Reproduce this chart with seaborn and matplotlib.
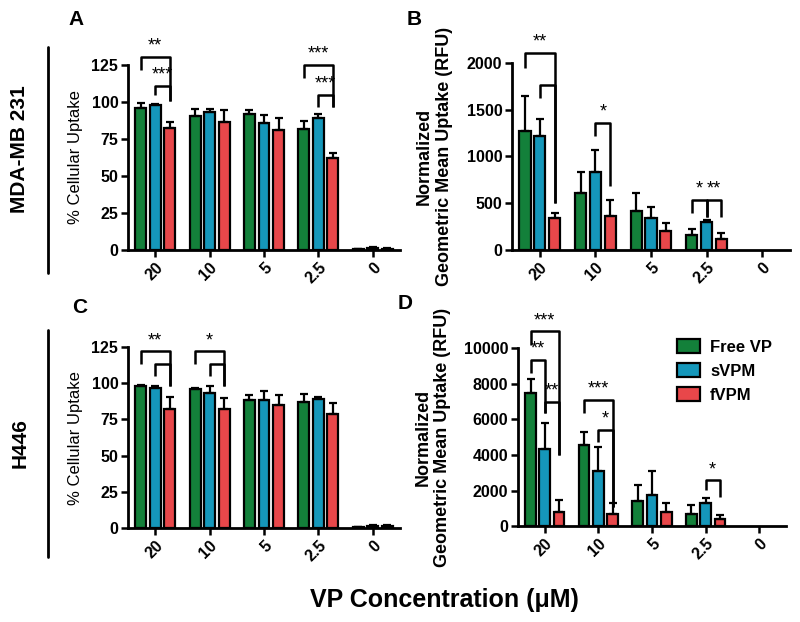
import matplotlib
matplotlib.use("Agg")
import matplotlib.pyplot as plt
from matplotlib.lines import Line2D
import seaborn as sns
import pandas as pd
import numpy as np

conc = ['20', '10', '5', '2.5', '0']
groups = ['Free VP', 'sVPM', 'fVPM']
colors = ['#13803a', '#1597ba', '#e8474a']

# panel A - MDA-MB 231, % cellular uptake
a_free = [95.7, 90.5, 91.7, 81.5, 0.5]
a_free_err = [3.8, 4.5, 2.9, 5.9, 0.3]
a_svpm = [98.0, 93.5, 85.6, 89.0, 1.5]
a_svpm_err = [0.5, 1.5, 5.6, 3.0, 0.6]
a_fvpm = [82.2, 86.7, 81.0, 62.0, 1.0]
a_fvpm_err = [4.5, 7.9, 8.0, 3.3, 0.5]

# panel B - MDA-MB 231, geometric mean uptake
b_free = [1268, 614, 421, 161, 0]
b_free_err = [375, 218, 186, 60, 0]
b_svpm = [1214, 829, 339, 304, 0]
b_svpm_err = [186, 242, 118, 17, 0]
b_fvpm = [339, 364, 207, 114, 0]
b_fvpm_err = [54, 172, 86, 65, 0]

# panel C - H446, % cellular uptake
c_free = [97.8, 96.2, 88.6, 87.0, 0.5]
c_free_err = [0.7, 0.8, 3.0, 5.3, 0.3]
c_svpm = [96.9, 93.5, 88.6, 88.9, 1.5]
c_svpm_err = [0.9, 4.3, 6.0, 1.6, 0.5]
c_fvpm = [82.0, 82.4, 85.2, 78.5, 1.5]
c_fvpm_err = [8.5, 7.6, 6.4, 8.1, 0.5]

# panel D - H446, geometric mean uptake
d_free = [7467, 4559, 1407, 713, 0]
d_free_err = [806, 750, 900, 469, 0]
d_svpm = [4315, 3114, 1745, 1276, 0]
d_svpm_err = [1463, 1351, 1369, 281, 0]
d_fvpm = [807, 675, 807, 394, 0]
d_fvpm_err = [656, 601, 469, 263, 0]

# significance brackets: (concentration idx, bar a, bar b, bracket top, leg a end, leg b end, label)
a_sig = [(0, 0, 2, 130.6, 121.6, 101, '**'), (0, 1, 2, 110.8, 104.7, 101, '***'),
         (3, 0, 2, 125, 116, 96.8, '***'), (3, 1, 2, 105, 96.8, 96.8, '***')]
b_sig = [(0, 0, 2, 2107, 1946, 500, '**'), (0, 1, 2, 1768, 1625, 500, ''),
         (1, 1, 2, 1357, 1214, 679, '*'), (3, 0, 1, 536, 393, 357, '*'),
         (3, 1, 2, 536, 357, 357, '**')]
c_sig = [(0, 0, 2, 122.2, 113.5, 97.8, '**'), (0, 1, 2, 113.5, 104.7, 97.8, ''),
         (1, 0, 2, 122.2, 113.5, 97.8, '*'), (1, 1, 2, 113.5, 104.7, 97.8, '')]
d_sig = [(0, 0, 2, 10937, 10187, 3996, '***'), (0, 0, 1, 9342, 8592, 6341, '**'),
         (0, 1, 2, 6997, 6341, 3996, '**'), (1, 0, 2, 7091, 6341, 1088, '***'),
         (1, 1, 2, 5403, 4746, 1088, '*'), (3, 1, 2, 2589, 2026, 1651, '*')]

sns.set_theme(style='ticks')
plt.rcParams['font.family'] = ['Liberation Sans', 'DejaVu Sans']
for k in ['text.color', 'axes.labelcolor', 'xtick.color', 'ytick.color', 'axes.edgecolor']:
    plt.rcParams[k] = 'black'


def make_df(vals, errs):
    rows = []
    for g, v, e in zip(groups, vals, errs):
        for c, vv, ee in zip(conc, v, e):
            rows.append({'conc': c, 'group': g, 'value': vv, 'err': ee})
    return pd.DataFrame(rows)


def panel(ax, vals, errs, sig, ymax, ystep, ylabel, ylabel_size, ylabel_weight, pad, legend=False):
    df = make_df(vals, errs)
    sns.barplot(data=df, x='conc', y='value', hue='group', order=conc, hue_order=groups,
                palette=colors, width=0.8, gap=0.25, edgecolor='black', linewidth=1.6,
                errorbar=None, legend=legend, saturation=1, ax=ax)
    for cont, e in zip(ax.containers, errs):
        xs = [p.get_x() + p.get_width() / 2 for p in cont.patches]
        hs = [p.get_height() for p in cont.patches]
        for p in cont.patches:
            if p.get_height() == 0:
                p.set_linewidth(0)
        ee = np.array(e, dtype=float)
        m = ee > 0
        ax.errorbar(np.array(xs)[m], np.array(hs)[m], yerr=[np.zeros(m.sum()), ee[m]],
                    fmt='none', ecolor='black', elinewidth=1.6, capsize=3, capthick=1.6,
                    zorder=1)
    for gi, i, j, top, ya, yb, lab in sig:
        pa = ax.containers[i].patches[gi]
        pb = ax.containers[j].patches[gi]
        xa = pa.get_x() + pa.get_width() / 2
        xb = pb.get_x() + pb.get_width() / 2
        ax.plot([xa, xa, xb, xb], [ya, top, top, yb], color='black', lw=1.8,
                clip_on=False, solid_capstyle='butt', zorder=5)
        if lab:
            ax.annotate(lab, ((xa + xb) / 2, top), xytext=(0, 1.5), textcoords='offset points',
                        ha='center', va='bottom', fontsize=13, annotation_clip=False)
    ax.set_xlim(-0.5, 4.5)
    ax.set_ylim(0, ymax)
    ax.set_yticks(np.arange(0, ymax + 1, ystep))
    ax.set_xlabel('')
    ax.set_ylabel(ylabel, fontsize=ylabel_size, fontweight=ylabel_weight, labelpad=pad)
    sns.despine(ax=ax)
    for s in ['left', 'bottom']:
        ax.spines[s].set_linewidth(2)
    ax.tick_params(axis='both', length=5, width=1.8, labelsize=11.5, pad=2)
    for t in ax.get_yticklabels():
        t.set_fontweight('bold')
    for t in ax.get_xticklabels():
        t.set_fontweight('bold')
        t.set_rotation(45)
        t.set_ha('right')
        t.set_rotation_mode('anchor')


fig = plt.figure(figsize=(8, 6.22), dpi=100)
ax_a = fig.add_axes([0.16, 0.598, 0.34, 0.2975])
ax_b = fig.add_axes([0.64, 0.598, 0.3475, 0.301])
ax_c = fig.add_axes([0.16, 0.151, 0.34, 0.291])
ax_d = fig.add_axes([0.6475, 0.154, 0.335, 0.2865])

panel(ax_a, [a_free, a_svpm, a_fvpm], [a_free_err, a_svpm_err, a_fvpm_err], a_sig,
      125, 25, '% Cellular Uptake', 12, 'normal', 6)
panel(ax_b, [b_free, b_svpm, b_fvpm], [b_free_err, b_svpm_err, b_fvpm_err], b_sig,
      2000, 500, 'Normalized\nGeometric Mean Uptake (RFU)', 13, 'bold', 10)
panel(ax_c, [c_free, c_svpm, c_fvpm], [c_free_err, c_svpm_err, c_fvpm_err], c_sig,
      125, 25, '% Cellular Uptake', 12, 'normal', 6)
panel(ax_d, [d_free, d_svpm, d_fvpm], [d_free_err, d_svpm_err, d_fvpm_err], d_sig,
      10000, 2000, 'Normalized\nGeometric Mean Uptake (RFU)', 13, 'bold', 9, legend=True)

handles, labels = ax_d.get_legend_handles_labels()
ax_d.legend(handles, labels, loc='upper left', bbox_to_anchor=(0.846, 0.455),
            bbox_transform=fig.transFigure, frameon=False, prop={'weight': 'bold', 'size': 12},
            handlelength=1.4, handleheight=0.9, handletextpad=0.6, labelspacing=0.5,
            borderaxespad=0, borderpad=0)

# panel letters
for letter, x, y in [('A', 0.085, 0.968), ('B', 0.508, 0.968), ('C', 0.09, 0.505), ('D', 0.497, 0.512)]:
    fig.text(x, y, letter, fontsize=15, fontweight='bold', ha='left', va='center')

# row labels with vertical rules
fig.text(0.025, 0.76, 'MDA-MB 231', rotation=90, fontsize=15, fontweight='bold',
         ha='center', va='center')
fig.text(0.025, 0.288, 'H446', rotation=90, fontsize=15, fontweight='bold',
         ha='center', va='center')
fig.add_artist(Line2D([0.06, 0.06], [1 - 47 / 622, 1 - 273 / 622], color='black', lw=2))
fig.add_artist(Line2D([0.06, 0.06], [1 - 330 / 622, 1 - 557 / 622], color='black', lw=2))

fig.text(0.555, 0.036, 'VP Concentration (μM)', fontsize=18, fontweight='bold',
         ha='center', va='center')

fig.savefig('out.png', dpi=100)
